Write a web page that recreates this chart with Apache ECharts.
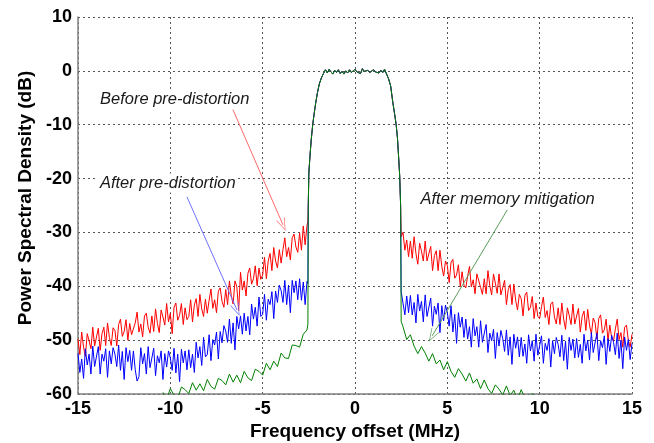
<!DOCTYPE html>
<html><head><meta charset="utf-8">
<script src="https://cdn.jsdelivr.net/npm/echarts@6/dist/echarts.min.js"></script>
<style>html,body{margin:0;padding:0;background:#fff}#c{width:654px;height:443px}</style>
</head><body><div id="c"></div><script>
// Axis ticks
const xTicks = [-15, -10, -5, 0, 5, 10, 15];
const yTicks = [-60, -50, -40, -30, -20, -10, 0, 10];
const xTitle = 'Frequency offset (MHz)';
const yTitle = 'Power Spectral Density (dB)';

// Frequency sampling grids (MHz)
const outerLeftFreq = Array.from({length: 125}, (_, i) => +(-15 + i * 0.1).toFixed(1));   // -15.0 .. -2.6
const outerRightFreq = Array.from({length: 125}, (_, i) => +(2.6 + i * 0.1).toFixed(1));  // 2.6 .. 15.0
const greenLeftFreq = Array.from({length: 40}, (_, i) => +(-10.4 + i * 0.2).toFixed(1));  // -10.4 .. -2.6
const greenRightFreq = Array.from({length: 37}, (_, i) => +(2.6 + i * 0.2).toFixed(1));   // 2.6 .. 9.8
const edgeFreq = [-2.55, 2.5];

// In-band shape
const bandFreq = [-2.53,-2.5,-2.44,-2.37,-2.29,-2.21,-2.13,-2.03,-1.93,-1.82,-1.71,
  -1.6,-1.5,-1.4,-1.3,-1.2,-1.1,-1.0,-0.9,-0.8,-0.7,-0.6,-0.5,-0.4,-0.3,-0.2,-0.1,
  0,0.1,0.2,0.3,0.4,0.5,0.6,0.7,0.8,0.9,1.0,1.1,1.2,1.3,1.4,1.5,1.6,
  1.71,1.82,1.93,2.05,2.14,2.23,2.3,2.36,2.42,2.47];
const bandPSD = [-25,-19,-15.9,-12.8,-10.0,-7.9,-6.0,-4.0,-2.4,-1.3,-0.5,
  0.2,-0.4,0.3,-0.2,-0.6,0.1,-0.3,0.2,-0.5,-0.1,-0.6,0.0,-0.4,0.2,-0.3,-0.1,
  0.3,-0.2,0.1,-0.5,0.4,-0.1,-0.4,0.1,-0.3,-0.6,0.2,-0.2,0.0,-0.4,0.1,-0.3,0.3,
  -0.6,-1.5,-2.8,-5.9,-7.9,-10.0,-12.5,-15.9,-19.5,-25];

// Before pre-distortion (red)
const redLeft = [
  -49.8,-52.7,-48.5,-51.3,-53.0,-48.8,-50.1,-51.6,-47.6,-51.1,
  -50.9,-47.8,-51.9,-48.8,-47.6,-51.0,-46.8,-49.5,-51.0,-47.7,
  -48.2,-51.1,-47.1,-46.1,-49.3,-48.4,-46.2,-50.0,-46.9,-49.0,
  -49.2,-46.8,-44.8,-48.5,-47.0,-49.4,-45.5,-45.0,-47.6,-48.7,
  -45.5,-48.4,-44.2,-46.9,-48.6,-44.4,-45.7,-47.2,-43.2,-46.6,
  -45.0,-48.8,-43.9,-43.1,-46.3,-45.4,-43.2,-47.1,-44.0,-46.2,
  -45.6,-42.5,-46.6,-43.5,-42.3,-45.6,-41.5,-44.2,-45.6,-42.4,
  -45.0,-42.6,-40.5,-44.1,-42.5,-44.9,-40.9,-40.3,-42.8,-43.9,
  -40.6,-43.4,-39.0,-41.7,-43.3,-39.0,-40.1,-44.5,-37.4,-40.7,
  -39.0,-41.8,-37.6,-36.6,-39.6,-38.6,-36.2,-39.9,-36.6,-38.7,
  -37.9,-34.6,-38.6,-35.3,-33.9,-37.1,-32.8,-35.3,-36.6,-33.2,
  -35.7,-33.2,-31.0,-34.5,-32.8,-35.1,-31.0,-30.3,-32.7,-33.7,
  -30.1,-33.3,-28.8,-32.3,-28.7];
const redRight = [
  -30.0,-33.3,-31.4,-34.5,
  -31.6,-34.8,-30.8,-33.9,-35.9,-32.0,-33.5,-35.3,-31.6,-35.3,
  -35.4,-32.6,-37.1,-34.3,-33.4,-37.1,-33.3,-36.3,-38.1,-35.3,
  -36.1,-39.3,-35.6,-35.0,-38.5,-37.9,-36.0,-40.1,-37.3,-39.8,
  -40.3,-38.1,-36.3,-40.1,-38.8,-41.4,-37.7,-37.4,-40.2,-41.5,
  -38.6,-41.4,-37.1,-39.9,-41.6,-37.7,-39.4,-41.3,-37.7,-41.6,
  -41.7,-38.9,-43.4,-40.6,-39.7,-43.4,-39.6,-42.6,-44.4,-41.5,
  -42.3,-45.5,-41.7,-41.1,-44.5,-43.9,-41.9,-46.0,-43.1,-45.6,
  -46.0,-43.8,-42.0,-45.8,-44.5,-47.1,-43.3,-42.9,-45.7,-47.0,
  -44.0,-47.1,-43.1,-46.1,-48.0,-44.0,-45.4,-47.1,-43.3,-47.0,
  -47.0,-44.1,-48.5,-45.6,-44.6,-48.2,-44.3,-47.2,-48.9,-45.9,
  -46.7,-49.8,-46.0,-45.3,-48.7,-48.1,-46.1,-50.1,-47.2,-49.6,
  -50.1,-47.9,-46.1,-49.9,-48.6,-51.3,-47.6,-47.2,-50.0,-51.3,
  -48.9];
const redEdge = [-28.0, -30.8];

// After pre-distortion (blue)
const blueLeft = [
  -52.5,-56.0,-53.5,-57.1,-51.6,-54.6,-52.6,-56.3,-51.1,-54.9,
  -54.7,-51.2,-56.3,-52.6,-53.9,-51.6,-56.9,-52.0,-54.4,-51.4,
  -52.6,-54.9,-50.9,-55.6,-52.1,-57.3,-51.4,-54.0,-51.9,-55.6,
  -52.0,-55.5,-57.6,-56.8,-51.4,-54.4,-52.5,-56.3,-51.2,-55.1,
  -55.0,-51.5,-56.6,-52.9,-54.2,-52.0,-57.3,-52.5,-55.0,-52.0,
  -53.3,-55.6,-51.5,-56.1,-52.6,-57.7,-51.7,-54.2,-52.0,-55.5,
  -51.8,-55.1,-52.6,-56.0,-50.4,-53.3,-51.2,-54.7,-49.5,-53.1,
  -52.7,-49.0,-53.8,-49.9,-50.9,-48.5,-53.5,-48.4,-50.5,-47.3,
  -48.3,-50.4,-46.1,-50.6,-46.8,-51.8,-45.6,-47.9,-45.5,-48.9,
  -45.0,-48.3,-45.6,-49.0,-43.3,-46.1,-43.9,-47.4,-42.0,-45.6,
  -45.2,-41.5,-46.3,-42.4,-43.4,-41.0,-46.0,-40.9,-43.0,-39.8,
  -40.8,-43.0,-38.9,-43.4,-39.8,-44.9,-38.9,-41.2,-39.0,-42.5,
  -38.6,-42.6,-39.2,-43.4,-39.1];
const blueRight = [
  -40.7,-45.3,-41.8,-44.9,
  -41.7,-45.3,-43.0,-46.8,-41.5,-44.6,-42.8,-46.6,-41.6,-45.6,
  -45.6,-42.2,-47.4,-43.7,-45.2,-43.1,-48.6,-43.6,-46.4,-43.5,
  -44.9,-47.4,-43.6,-48.5,-45.2,-50.6,-44.9,-47.6,-45.7,-49.5,
  -46.1,-49.8,-47.5,-51.3,-46.0,-49.2,-47.5,-51.3,-46.4,-50.4,
  -50.5,-47.1,-52.3,-48.7,-50.1,-48.0,-53.4,-48.6,-51.1,-48.2,
  -49.7,-52.1,-48.1,-52.8,-49.4,-54.5,-48.9,-51.5,-49.4,-53.1,
  -49.5,-53.0,-50.7,-54.3,-49.0,-52.0,-50.1,-53.9,-48.9,-52.8,
  -52.7,-49.2,-54.3,-50.6,-51.9,-49.7,-55.0,-50.1,-52.5,-49.5,
  -50.8,-53.1,-49.1,-53.8,-50.2,-55.4,-49.5,-51.9,-49.8,-53.3,
  -49.7,-53.2,-50.8,-54.3,-48.9,-52.0,-50.0,-53.7,-48.6,-52.3,
  -52.2,-48.7,-53.8,-50.1,-51.4,-49.2,-54.5,-49.7,-52.1,-49.1,
  -50.4,-52.7,-48.7,-53.4,-50.0,-55.3,-49.4,-51.9,-49.9,-53.6,
  -50.6];
const blueEdge = [-39.5, -41.0];

// After memory mitigation (green)
const greenLeft = [
  -59.7,-61.0,-59.0,-60.2,-60.8,-58.7,-59.2,-59.9,-57.9,-59.3,
  -58.1,-59.4,-57.3,-58.6,-59.1,-57.1,-57.5,-58.3,-56.3,-57.8,
  -56.5,-57.9,-55.8,-57.0,-57.5,-55.4,-55.8,-56.5,-54.3,-55.5,
  -53.9,-54.9,-52.4,-53.3,-53.4,-50.9,-51.0,-51.3,-48.9,-48.1];
const greenRight = [
  -47.5,-49.9,-49.0,-51.1,-52.5,-51.2,-52.4,-53.9,-52.5,-54.4,
  -53.7,-55.5,-54.0,-55.8,-56.9,-55.3,-56.3,-57.6,-56.1,-58.0,
  -57.2,-59.0,-57.4,-59.0,-59.9,-58.3,-59.1,-60.2,-58.5,-60.3,
  -59.3,-61.0,-59.2,-60.8,-61.6,-59.9,-60.6];
const greenEdge = [-47.0, -46.5];

// Annotations (data coordinates)
const annoText = ['Before pre-distortion', 'After pre-distortion', 'After memory mitigation'];
const annoAnchor = [[-13.92, -5.33], [-13.92, -20.82], [3.44, -23.92]];
const arrowFrom = [[-6.61, -7.2], [-9.1, -23.4], [8.25, -25.8]];
const arrowTo = [[-3.9, -28.6], [-6.39, -44.4], [4.18, -49.2]];
const arrowColor = ['#ff6a6a', '#7070ff', '#5a9e5a'];

function pairs(xs, ys) { return xs.map((x, i) => [x, ys[i]]); }
function build(lf, l, edge, rf, r) {
  return [].concat(pairs(lf, l), [[edgeFreq[0], edge[0]]], pairs(bandFreq, bandPSD),
    [[edgeFreq[1], edge[1]]], pairs(rf, r));
}

const FONT = '"Liberation Sans", Arial, Helvetica, sans-serif';
const ARROW = 'path://M0,0 L6,14 L5,14 L0,2.2 L-5,14 L-6,14 Z';

const chart = echarts.init(document.getElementById('c'), null, {renderer: 'canvas'});
const axisCommon = {
  type: 'value',
  axisLine: {show: true, onZero: false, lineStyle: {color: '#7f7f7f', width: 1.5}},
  axisTick: {show: false},
  axisLabel: {color: '#000', fontSize: 18, fontWeight: 'bold', fontFamily: FONT, margin: 6},
  splitLine: {show: true, showMinLine: true, showMaxLine: true, lineStyle: {color: '#555', width: 1, type: [2, 3]}}
};
chart.setOption({
  animation: false,
  backgroundColor: '#fff',
  grid: {left: 78, right: 22, top: 17, bottom: 49, containLabel: false},
  xAxis: Object.assign({}, axisCommon, {
    min: xTicks[0], max: xTicks[xTicks.length - 1], interval: 5
  }),
  yAxis: Object.assign({}, axisCommon, {
    min: yTicks[0], max: yTicks[yTicks.length - 1], interval: 10
  }),
  series: [
    {type: 'line', name: 'Before pre-distortion', data: build(outerLeftFreq, redLeft, redEdge, outerRightFreq, redRight),
      showSymbol: false, symbol: 'none', lineStyle: {color: '#ff0000', width: 1}, itemStyle: {color: '#ff0000'}, clip: true, z: 2},
    {type: 'line', name: 'After pre-distortion', data: build(outerLeftFreq, blueLeft, blueEdge, outerRightFreq, blueRight),
      showSymbol: false, symbol: 'none', lineStyle: {color: '#0000ff', width: 1}, itemStyle: {color: '#0000ff'}, clip: true, z: 3},
    {type: 'line', name: 'After memory mitigation', data: build(greenLeftFreq, greenLeft, greenEdge, greenRightFreq, greenRight),
      showSymbol: false, symbol: 'none', lineStyle: {color: '#008000', width: 1}, itemStyle: {color: '#008000'}, clip: true, z: 4,
      markLine: {
        silent: true, animation: false, symbol: ['none', ARROW], symbolSize: [9, 13],
        label: {show: false}, emphasis: {disabled: true},
        lineStyle: {type: 'solid', width: 1},
        data: arrowFrom.map((f, i) => [
          {coord: f, lineStyle: {color: arrowColor[i], type: 'solid', width: 1}, itemStyle: {color: arrowColor[i]}},
          {coord: arrowTo[i]}
        ])
      }}
  ]
});
const gridRect = chart.getModel().getComponent('grid', 0).coordinateSystem.getRect();
chart.setOption({
  graphic: annoText.map((t, i) => {
    const p = chart.convertToPixel({gridIndex: 0}, annoAnchor[i]);
    return {type: 'text', x: p[0], y: p[1], z: 100,
      style: {text: t, font: 'italic 16.5px ' + FONT, fill: '#1a1a1a', align: 'left', verticalAlign: 'middle',
        backgroundColor: '#fff', padding: [1, 2]}};
  }).concat([
    {type: 'text', x: gridRect.x + gridRect.width / 2, y: 432, z: 100,
      style: {text: xTitle, font: 'bold 19px ' + FONT, fill: '#000', align: 'center', verticalAlign: 'middle'}},
    {type: 'text', x: 26, y: 198, rotation: Math.PI / 2, z: 100,
      style: {text: yTitle, font: 'bold 19px ' + FONT, fill: '#000', align: 'center', verticalAlign: 'middle'}}
  ])
});
</script></body></html>
